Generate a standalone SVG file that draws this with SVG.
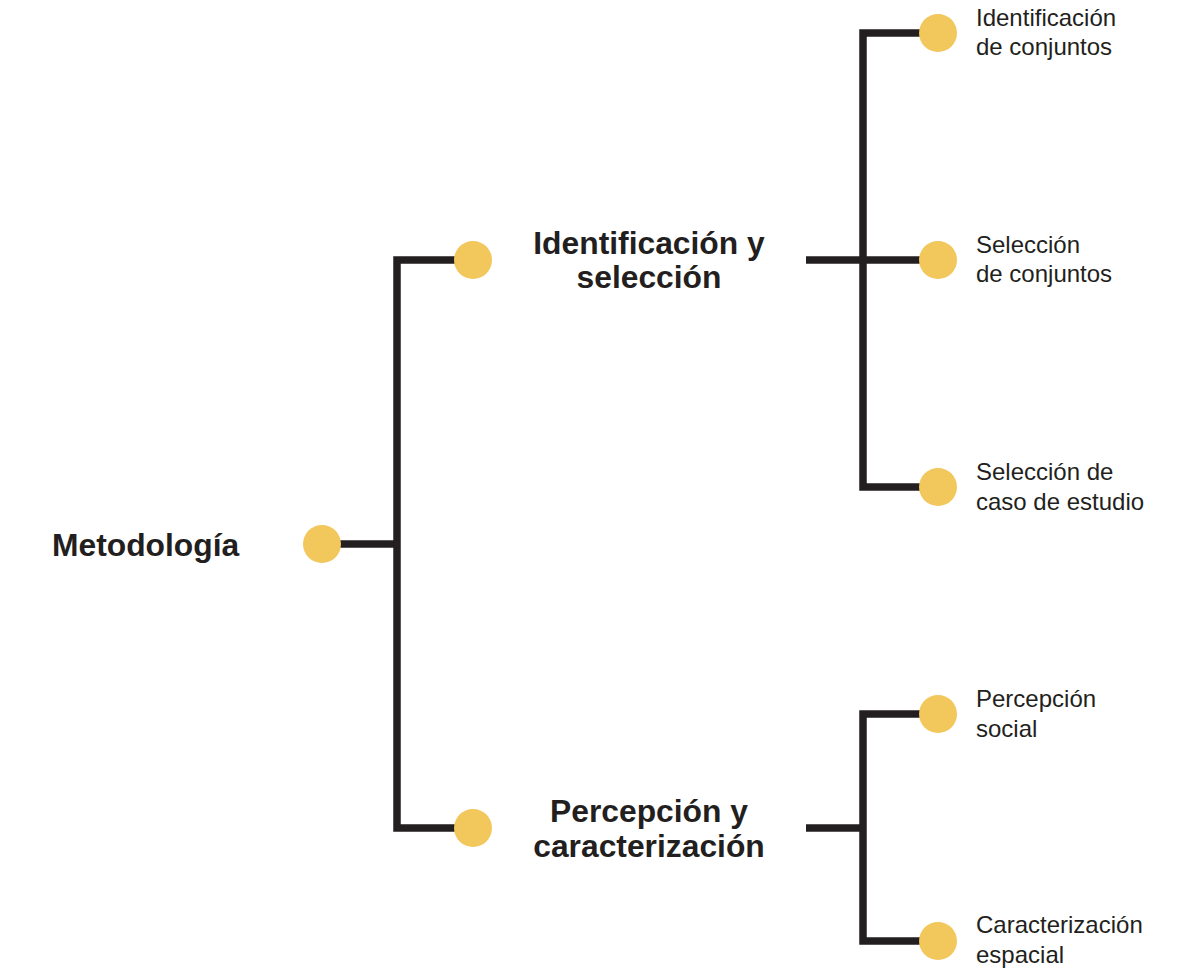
<svg xmlns="http://www.w3.org/2000/svg" width="1192" height="970" viewBox="0 0 1192 970">
<style>
.ln{fill:none;stroke:#231f20;stroke-width:7.5;stroke-linejoin:miter;stroke-linecap:butt}
.dot{fill:#f2c75c}
.big{font-family:"Liberation Sans",Arial,sans-serif;font-weight:bold;font-size:31.8px;fill:#231f20}
.sm{font-family:"Liberation Sans",Arial,sans-serif;font-size:24px;fill:#231f20}
</style>
<rect width="1192" height="970" fill="#ffffff"/>
<g id="connectors">
<polyline class="ln" points="455,260 397,260 397,828 455,828"/>
<line class="ln" x1="340" y1="544" x2="397" y2="544"/>
<polyline class="ln" points="920,33 863,33 863,487 920,487"/>
<line class="ln" x1="806" y1="260" x2="920" y2="260"/>
<polyline class="ln" points="920,714 863,714 863,941 920,941"/>
<line class="ln" x1="806" y1="828" x2="863" y2="828"/>
</g>
<g id="metodologia">
<circle class="dot" cx="322" cy="544" r="19"/>
<text class="big" x="52" y="556">Metodología</text>
</g>
<g id="identificacion-seleccion">
<circle class="dot" cx="473" cy="260" r="19"/>
<text class="big" text-anchor="middle" x="649" y="254">Identificación y</text>
<text class="big" text-anchor="middle" x="649" y="288">selección</text>
</g>
<g id="percepcion-caracterizacion">
<circle class="dot" cx="473" cy="828" r="19"/>
<text class="big" text-anchor="middle" x="649" y="822">Percepción y</text>
<text class="big" text-anchor="middle" x="649" y="857">caracterización</text>
</g>
<g id="identificacion-conjuntos">
<circle class="dot" cx="938" cy="33" r="19"/>
<text class="sm" x="976" y="26">Identificación</text>
<text class="sm" x="976" y="55">de conjuntos</text>
</g>
<g id="seleccion-conjuntos">
<circle class="dot" cx="938" cy="260" r="19"/>
<text class="sm" x="976" y="253">Selección</text>
<text class="sm" x="976" y="282">de conjuntos</text>
</g>
<g id="seleccion-caso">
<circle class="dot" cx="938" cy="487" r="19"/>
<text class="sm" x="976" y="480">Selección de</text>
<text class="sm" x="976" y="510">caso de estudio</text>
</g>
<g id="percepcion-social">
<circle class="dot" cx="938" cy="714" r="19"/>
<text class="sm" x="976" y="707">Percepción</text>
<text class="sm" x="976" y="737">social</text>
</g>
<g id="caracterizacion-espacial">
<circle class="dot" cx="938" cy="941" r="19"/>
<text class="sm" x="976" y="933">Caracterización</text>
<text class="sm" x="976" y="963">espacial</text>
</g>
</svg>
